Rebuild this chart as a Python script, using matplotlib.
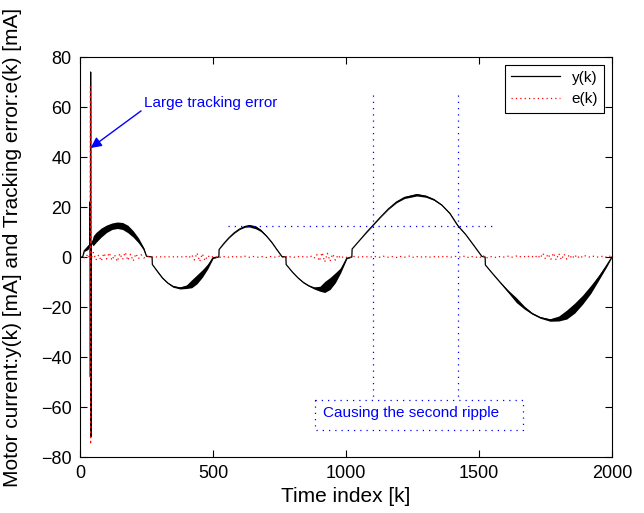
import numpy as np
import matplotlib.pyplot as plt

plt.rcParams['font.family'] = ['Liberation Sans', 'DejaVu Sans']

# motor current y(k): sample index, centre value, ripple half-width
k_y = [0, 10, 16, 30, 37, 38, 39, 40, 41, 42, 50, 60, 80, 100, 120, 140, 160, 180, 200, 220, 240, 250, 271,
       272, 290, 310, 330, 350, 376, 400, 420, 440, 460, 480, 500, 522,
       523, 540, 560, 580, 600, 620, 636, 660, 680, 700, 720, 740, 759, 774,
       775, 800, 820, 840, 860, 880, 902, 920, 940, 960, 980, 1003, 1022,
       1023, 1050, 1080, 1100, 1130, 1160, 1190, 1220, 1266, 1300, 1330, 1360, 1390, 1420, 1450, 1480, 1511, 1523,
       1524, 1550, 1580, 1610, 1640, 1670, 1700, 1730, 1767, 1800, 1830, 1860, 1890, 1920, 1950, 1980, 2000]
y_k = [0, 0, 2.5, 4, 4.5, 22, -48, 74, -72, 5.5, 6.5, 7.8, 9.8, 11.3, 12.3, 12.7, 12.4, 11.2, 9.2, 6.6, 3.2, 0.3, 0,
       -3, -5.6, -8.4, -10.4, -11.8, -12.4, -11.9, -10.7, -8.9, -6.6, -3.8, -0.3, 0,
       3, 5.3, 7.7, 9.7, 11.2, 12.2, 12.5, 11.9, 10.6, 8.5, 6.0, 3.0, 0.2, 0,
       -3, -6.2, -8.4, -10.2, -11.5, -12.4, -12.7, -12.0, -10.6, -8.3, -5.3, -0.5, 0,
       3.2, 6.5, 10.2, 12.5, 16.0, 19.3, 22.0, 23.8, 24.9, 24.3, 23.0, 20.8, 17.5, 12.6, 9.0, 4.7, 0.2, 0,
       -3.2, -6.5, -10.2, -13.8, -17.2, -20.2, -22.6, -24.2, -25.2, -24.6, -23.0, -20.4, -17.0, -13.0, -8.3, -3.4, 0]
y_ripple = [0, 0, 0.3, 1, 0, 0, 0, 0, 0, 0, 2, 2, 1.8, 1.5, 1.3, 1.3, 1.4, 1.5, 1.3, 1.0, 0.5, 0, 0,
            0, 0.2, 0.2, 0.2, 0.3, 0.4, 0.7, 1.6, 1.8, 1.5, 1.0, 0.3, 0,
            0, 0.1, 0.1, 0.2, 0.2, 0.3, 0.5, 0.6, 0.4, 0.2, 0.2, 0.1, 0, 0,
            0, 0.1, 0.1, 0.2, 0.2, 0.4, 1.0, 2.2, 2.4, 2.0, 1.0, 0.2, 0,
            0, 0, 0.1, 0.1, 0.1, 0.2, 0.3, 0.4, 0.5, 0.4, 0.3, 0.2, 0.2, 0.2, 0.1, 0.1, 0, 0,
            0, 0.1, 0.2, 0.5, 1.0, 0.6, 0.3, 0.3, 0.5, 1.0, 1.8, 2.0, 1.8, 1.6, 1.0, 0.5, 0]

# tracking error e(k), every 10 samples from 0 to 2000
e_k = [0, 0.3, -0.5, 1.2, -1.5, 1.8, -1.2, 0.8, -1.6, 1.5, -0.8, 1.7, -1.3, 0.9, -1.8, 1.4, -1.0, 1.9, -1.4, 1.1,
       -1.6, 1.3, -0.7, 0.9, -0.4, 0.2, 0.1, -0.2, 0.3, -0.1, 0.2, -0.2, 0.1, 0.2, -0.1, 0.1, -0.2, 0.2, 0.1, -0.1,
       0.2, -0.3, 0.9, -1.2, 1.6, -1.8, 1.3, -1.5, 0.6, -0.3, 0.2, -0.2, 0.4, -0.3, 0.1, 0.2, -0.1, 0.3, -0.2, 0.1,
       0.2, -0.1, 0.3, 0.1, -0.2, 0.2, 0.1, -0.1, 0.2, 0.1, -0.2, 0.1, 0.2, -0.1, 0.1, 0.3, -0.4, 0.5, -0.3, 0.1,
       0.1, -0.2, 0.2, -0.1, 0.2, 0.1, -0.2, 0.3, -0.5, 1.0, -1.6, 1.8, -2.0, 1.5, -1.7, 1.2, -1.3, 0.8, -0.6, 0.2,
       -0.2, 0.3, -0.4, 0.2, 0.1, -0.1, 0.2, -0.1, 0.1, 0.2, -0.1, 0.2, 0.1, -0.2, 0.3, 0.1, -0.1, 0.2, 0.1, -0.2,
       0.3, 0.1, -0.1, 0.2, 0.4, -0.2, 0.3, 0.1, -0.1, 0.2, 0.1, -0.2, 0.1, 0.2, -0.1, 0.1, 0.3, -0.1, 0.2, 0.1,
       -0.1, 0.2, 0.3, -0.1, 0.2, 0.4, -0.2, 0.1, 0.2, -0.1, 0.3, -0.4, 0.6, -0.3, 0.2, 0.1, -0.2, 0.3, 0.1, -0.1,
       0.2, 0.3, -0.2, 0.1, 0.4, -0.1, 0.3, 0.2, -0.2, 0.5, 0.2, -0.3, 0.8, -0.5, 1.5, -0.8, 1.2, -1.0, 1.6, -1.2,
       1.4, -1.1, 1.2, -0.9, 1.0, -0.7, 0.9, -0.5, 0.6, -0.3, 0.5, 0.2, -0.2, 0.3, 0.1, -0.1, 0.2, 0.4, -0.2, 0.3,
       0.1]
k_e = np.arange(0, 2001, 10)

# error spike at start-up
spike_k = [38, 39, 40, 41, 42]
spike_e = [0, 68, -75, 62, 0]

fig = plt.figure(figsize=(6.44, 5.13), dpi=100)
ax = fig.add_axes([80 / 644, 56 / 513, 532 / 644, 400 / 513])

k = np.array(k_y)
y = np.array(y_k)
r = np.array(y_ripple)
ax.fill_between(k, y - r, y + r, color='black', lw=0)
ax.plot(k, y, color='black', lw=0.9, label='y(k)')
ax.plot(k_e, e_k, color='red', lw=0.9, ls=(0, (1, 2.5)), label='e(k)')
ax.plot(spike_k, spike_e, color='red', lw=0.9, ls=(0, (1, 3)))

# annotations
blue_dot = dict(color='blue', lw=0.9, ls=(0, (1, 4)))
ax.plot([556, 1553], [12.5, 12.5], **blue_dot)
ax.plot([1100, 1100], [65, -57], **blue_dot)
ax.plot([1420, 1420], [65, -57], **blue_dot)
ax.plot([883, 1665, 1665, 883, 883], [-57, -57, -69, -69, -57], **blue_dot)
ax.text(913, -62.5, 'Causing the second ripple', color='blue', fontsize=11, va='center')
ax.annotate('Large tracking error', xy=(40, 43.6), xytext=(240, 61.5), color='blue', fontsize=11,
            va='center', ha='left',
            arrowprops=dict(arrowstyle='-|>', color='blue', lw=1, mutation_scale=16,
                            shrinkA=0, shrinkB=0, relpos=(0, 0.1)))

ax.set_xlim(0, 2000)
ax.set_ylim(-80, 80)
ax.set_xticks([0, 500, 1000, 1500, 2000])
ax.set_yticks(np.arange(-80, 81, 20))
ax.tick_params(direction='in', top=True, right=True, length=5, width=0.8, labelsize=13, pad=6)
for s in ax.spines.values():
    s.set_linewidth(0.8)
ax.set_xlabel('Time index [k]', fontsize=15, labelpad=3)
ax.set_ylabel('Motor current:y(k) [mA] and Tracking error:e(k) [mA]', fontsize=15)
ax.yaxis.set_label_coords(-0.109, 0.525)

leg = ax.legend(loc='upper right', fontsize=11, fancybox=False, edgecolor='black', framealpha=1,
                borderaxespad=0.5, handlelength=3.2)
leg.get_frame().set_linewidth(0.8)

fig.savefig('out.png', dpi=100)
